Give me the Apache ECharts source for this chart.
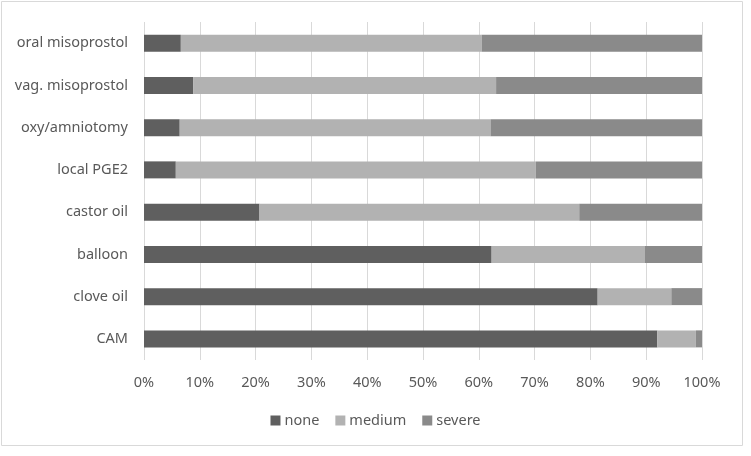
<!DOCTYPE html>
<html>
<head>
<meta charset="utf-8">
<script src="https://cdn.jsdelivr.net/npm/echarts@6/dist/echarts.min.js"></script>
<style>
  html, body { margin: 0; padding: 0; background: #fff; }
  #main { width: 751px; height: 456px; }
</style>
</head>
<body>
<div id="main"></div>
<script>
// categories bottom -> top
const methods = ['CAM', 'clove oil', 'balloon', 'castor oil', 'local PGE2', 'oxy/amniotomy', 'vag. misoprostol', 'oral misoprostol'];
const none = [92.0, 81.3, 62.3, 20.7, 5.7, 6.4, 8.8, 6.6];
const medium = [6.9, 13.2, 27.4, 57.3, 64.5, 55.7, 54.3, 53.9];
const severe = [1.1, 5.5, 10.3, 22.0, 29.8, 37.9, 36.9, 39.5];
const tickLabels = ['0%', '10%', '20%', '30%', '40%', '50%', '60%', '70%', '80%', '90%', '100%'];

const textColor = '#595959';
const font = 'Noto Sans';
const fs = 14.5;

const chart = echarts.init(document.getElementById('main'), null, { renderer: 'canvas' });

function mkSeries(name, data, color) {
    return {
        name: name,
        type: 'bar',
        stack: 'total',
        barWidth: 17,
        data: data,
        itemStyle: { color: color },
        emphasis: { disabled: true }
    };
}

const option = {
    animation: false,
    textStyle: { fontFamily: font },
    graphic: [{
        type: 'rect',
        shape: { x: 1.5, y: 1.5, width: 741, height: 444 },
        style: { fill: 'none', stroke: '#d9d9d9', lineWidth: 1 },
        silent: true
    }],
    grid: { left: 144, right: 49, top: 22, bottom: 96 },
    legend: {
        bottom: 23,
        left: 'center',
        itemWidth: 10,
        itemHeight: 10,
        itemGap: 16,
        icon: 'rect',
        textStyle: { color: textColor, fontSize: fs, fontFamily: font, padding: [0, 0, 0, -1] },
        data: ['none', 'medium', 'severe']
    },
    xAxis: {
        type: 'value',
        min: 0,
        max: 100,
        interval: 10,
        axisLine: { show: false },
        axisTick: { show: false },
        splitLine: { lineStyle: { color: '#d9d9d9', width: 1 } },
        axisLabel: {
            color: textColor,
            fontSize: fs,
            margin: 15,
            formatter: function (value) {
                return tickLabels[Math.round(value / 10)];
            }
        }
    },
    yAxis: {
        type: 'category',
        data: methods,
        axisLine: { show: false },
        axisTick: { show: false },
        axisLabel: { color: textColor, fontSize: fs, margin: 16 }
    },
    series: [
        mkSeries('none', none, '#5f5f5f'),
        mkSeries('medium', medium, '#b2b2b2'),
        mkSeries('severe', severe, '#8a8a8a')
    ]
};

chart.setOption(option);
</script>
</body>
</html>
